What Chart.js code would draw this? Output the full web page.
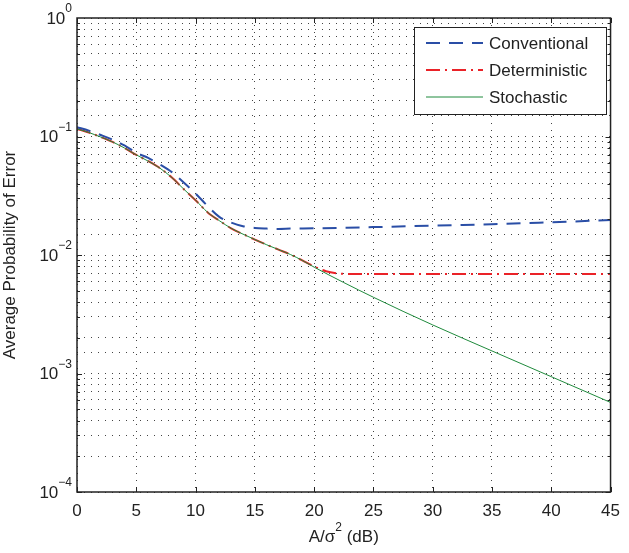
<!DOCTYPE html>
<html>
<head>
<meta charset="utf-8">
<script src="https://cdn.jsdelivr.net/npm/chart.js@4.4.1/dist/chart.umd.min.js"></script>
<style>
  html, body { margin: 0; padding: 0; background: #fff; }
  #wrap { width: 629px; height: 553px; }
</style>
</head>
<body>
<div id="wrap"><canvas id="chart"></canvas></div>
<script>
// ---- data ----
const snrConv = [0, 1, 2, 3, 4, 5, 6, 7, 8, 9, 10, 11, 12, 13, 14, 15, 16, 17, 18, 20, 25, 30, 35, 40, 45];
const pConv   = [0.120, 0.112, 0.103, 0.094, 0.084, 0.073, 0.066, 0.058, 0.050, 0.041, 0.033, 0.026, 0.021,
                 0.0188, 0.0175, 0.0169, 0.0167, 0.0166, 0.0167, 0.0168, 0.0172, 0.0177, 0.0182, 0.0189, 0.0197];

const snrDet = [0, 1, 2, 3, 4, 5, 6, 7, 8, 9, 10, 11, 12, 13, 14, 15, 16, 17, 18, 19, 20, 21, 22, 23, 25, 30, 35, 40, 45];
const pDet   = [0.116, 0.108, 0.099, 0.090, 0.080, 0.070, 0.062, 0.054, 0.045, 0.036, 0.029, 0.023, 0.0195,
                0.0168, 0.0150, 0.0135, 0.0122, 0.0111, 0.0101, 0.0090, 0.0080, 0.0073, 0.0070, 0.0069,
                0.0069, 0.0069, 0.0069, 0.0069, 0.0069];

const snrSto = [0, 1, 2, 3, 4, 5, 6, 7, 8, 9, 10, 11, 12, 13, 14, 15, 16, 17, 18, 19, 20, 25, 30, 35, 40, 45];
const pSto   = [0.116, 0.108, 0.099, 0.090, 0.080, 0.070, 0.062, 0.054, 0.045, 0.036, 0.029, 0.023, 0.0195,
                0.0168, 0.0150, 0.0135, 0.0122, 0.0111, 0.0101, 0.0090, 0.0079, 0.0044, 0.00257, 0.00155,
                0.00094, 0.00057];

const seriesNames = ['Conventional', 'Deterministic', 'Stochastic'];
const xTicks = [0, 5, 10, 15, 20, 25, 30, 35, 40, 45];
const yDecades = [0, -1, -2, -3, -4];   // exponents for 10^n labels

const FONT = '"Liberation Sans", Arial, sans-serif';
const TXT = '#222';

function toPoints(xs, ys) {
    return xs.map((x, i) => ({ x: x, y: ys[i] }));
}

// frame, inward ticks, y labels with superscripts, x title, legend
const decorPlugin = {
    id: 'decor',
    afterDraw(chart) {
        const ctx = chart.ctx;
        const a = chart.chartArea;
        const xs = chart.scales.x;
        const ys = chart.scales.y;
        ctx.save();

        // tick marks (inside the box)
        ctx.strokeStyle = '#222';
        ctx.lineWidth = 1;
        ctx.beginPath();
        xTicks.forEach(v => {
            const px = Math.round(xs.getPixelForValue(v)) + 0.5;
            ctx.moveTo(px, a.bottom); ctx.lineTo(px, a.bottom - 5);
            ctx.moveTo(px, a.top);    ctx.lineTo(px, a.top + 5);
        });
        for (let e = -4; e < 0; e++) {
            for (let m = 1; m <= 9; m++) {
                const v = m * Math.pow(10, e);
                const py = Math.round(ys.getPixelForValue(v)) + 0.5;
                const len = m === 1 ? 5 : 3;
                ctx.moveTo(a.left, py);  ctx.lineTo(a.left + len, py);
                ctx.moveTo(a.right, py); ctx.lineTo(a.right - len, py);
            }
        }
        ctx.stroke();

        // box
        ctx.lineWidth = 1.5;
        ctx.strokeRect(a.left, a.top, a.right - a.left, a.bottom - a.top);

        // y tick labels 10^n
        ctx.fillStyle = TXT;
        ctx.textBaseline = 'middle';
        yDecades.forEach(e => {
            const py = ys.getPixelForValue(Math.pow(10, e));
            const expStr = e === 0 ? '0' : '\u2212' + Math.abs(e);
            ctx.font = '12px ' + FONT;
            const ew = ctx.measureText(expStr).width;
            const right = a.left - 5;
            ctx.textAlign = 'left';
            ctx.fillText(expStr, right - ew, py - 9);
            ctx.font = '17px ' + FONT;
            ctx.textAlign = 'right';
            ctx.fillText('10', right - ew, py + 1);
        });

        // x axis title  A/σ^2 (dB)
        const cx = (a.left + a.right) / 2;
        const ty = 537;
        ctx.font = '17px ' + FONT;
        const w1 = ctx.measureText('A/\u03c3').width;
        const w3 = ctx.measureText(' (dB)').width;
        ctx.font = '12px ' + FONT;
        const w2 = ctx.measureText('2').width;
        let x0 = cx - (w1 + w2 + w3) / 2;
        ctx.textAlign = 'left';
        ctx.font = '17px ' + FONT;
        ctx.fillText('A/\u03c3', x0, ty);
        ctx.font = '12px ' + FONT;
        ctx.fillText('2', x0 + w1, ty - 9);
        ctx.font = '17px ' + FONT;
        ctx.fillText(' (dB)', x0 + w1 + w2, ty);

        // legend
        const lx = 414, ly = 27, lw = 192, lh = 87;
        ctx.fillStyle = '#fff';
        ctx.fillRect(lx, ly, lw, lh);
        ctx.lineWidth = 1;
        ctx.strokeStyle = '#222';
        ctx.strokeRect(lx + 0.5, ly + 0.5, lw, lh);
        chart.data.datasets.forEach((ds, i) => {
            const ry = 43 + i * 27;
            ctx.beginPath();
            ctx.strokeStyle = ds.borderColor;
            ctx.lineWidth = ds.borderWidth;
            ctx.setLineDash(ds.borderDash || []);
            ctx.moveTo(426, ry); ctx.lineTo(483, ry);
            ctx.stroke();
            ctx.setLineDash([]);
            ctx.fillStyle = TXT;
            ctx.font = '17px ' + FONT;
            ctx.textAlign = 'left';
            ctx.fillText(seriesNames[i], 489, ry + 1);
        });

        ctx.restore();
    }
};

const gridStyle = { color: '#444', lineWidth: 1, drawTicks: false };

new Chart(document.getElementById('chart'), {
    type: 'line',
    data: {
        datasets: [
            {
                label: seriesNames[0],
                data: toPoints(snrConv, pConv),
                borderColor: '#2a4ea6',
                borderWidth: 2,
                borderDash: [14, 9],
                cubicInterpolationMode: 'monotone',
                pointRadius: 0,
                order: 0
            },
            {
                label: seriesNames[1],
                data: toPoints(snrDet, pDet),
                borderColor: '#ea2228',
                borderWidth: 2,
                borderDash: [14, 5, 2, 5],
                cubicInterpolationMode: 'monotone',
                pointRadius: 0,
                order: 2
            },
            {
                label: seriesNames[2],
                data: toPoints(snrSto, pSto),
                borderColor: '#1f8a3c',
                borderWidth: 1,
                cubicInterpolationMode: 'monotone',
                pointRadius: 0,
                order: 1
            }
        ]
    },
    options: {
        responsive: true,
        maintainAspectRatio: false,
        animation: false,
        layout: { padding: { top: 18, right: 9, left: 0, bottom: 0 } },
        plugins: {
            legend: { display: false },
            tooltip: { enabled: false }
        },
        scales: {
            x: {
                type: 'linear',
                min: 0,
                max: 45,
                afterBuildTicks: scale => { scale.ticks = xTicks.map(v => ({ value: v })); },
                afterFit: scale => { scale.height = 61; },
                ticks: {
                    color: TXT,
                    font: { family: FONT, size: 17 },
                    padding: 9,
                    maxRotation: 0,
                    autoSkip: false
                },
                grid: gridStyle,
                border: { display: false, dash: [1, 6] }
            },
            y: {
                type: 'logarithmic',
                min: 1e-4,
                max: 1,
                afterFit: scale => { scale.width = 77; },
                ticks: { display: false },
                grid: gridStyle,
                border: { display: false, dash: [1, 6] },
                title: {
                    display: true,
                    text: 'Average Probability of Error',
                    color: TXT,
                    font: { family: FONT, size: 17 },
                    padding: { top: 0, bottom: 0 }
                }
            }
        }
    },
    plugins: [decorPlugin]
});
</script>
</body>
</html>
